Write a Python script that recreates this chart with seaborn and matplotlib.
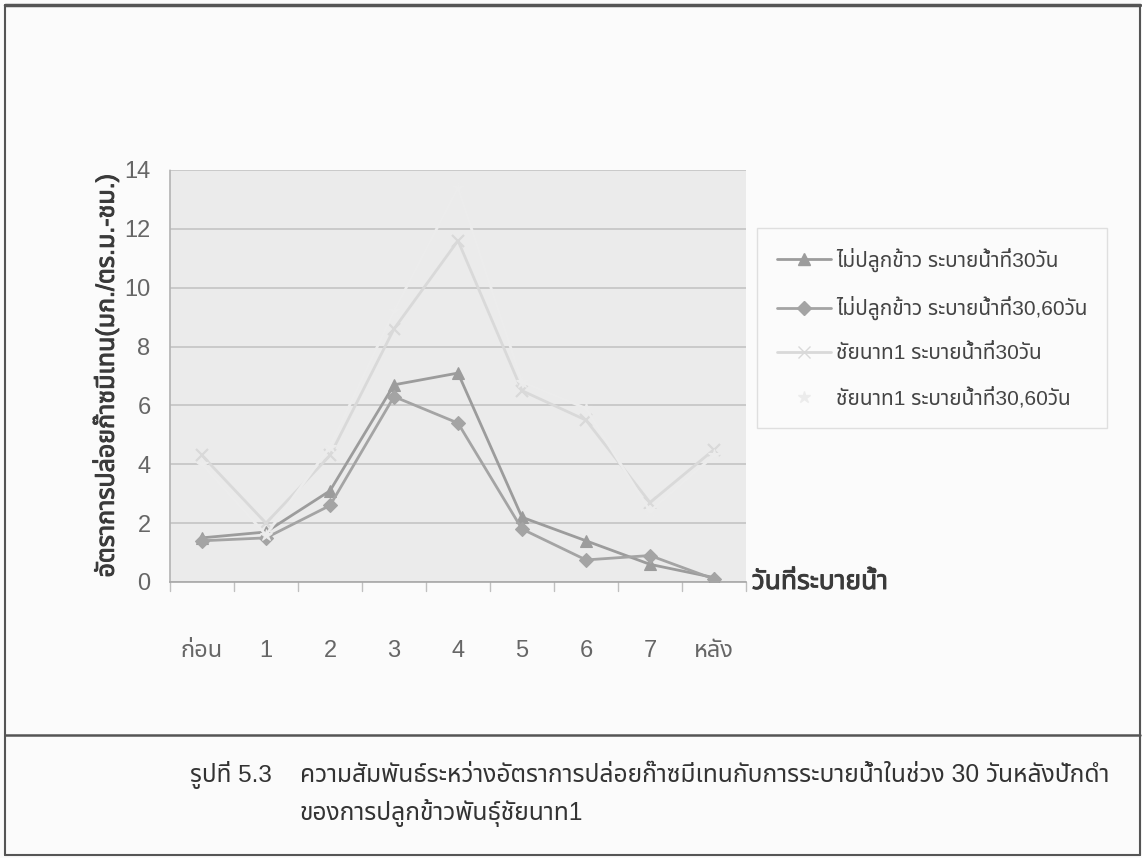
import numpy as np
import pandas as pd
import seaborn as sns
import matplotlib
matplotlib.use("Agg")
import matplotlib.pyplot as plt
import matplotlib.patheffects as pe
from matplotlib import font_manager, ft2font
from matplotlib.lines import Line2D

# ---- data -------------------------------------------------------------
days = ["ก่อน", "1", "2", "3", "4", "5", "6", "7", "หลัง"]
no_rice_30 = [1.5, 1.7, 3.1, 6.7, 7.1, 2.2, 1.4, 0.6, 0.15]
no_rice_30_60 = [1.4, 1.5, 2.6, 6.3, 5.4, 1.8, 0.75, 0.9, 0.1]
chainat_30 = [4.3, 2.0, 4.3, 8.6, 11.6, 6.5, 5.5, 2.7, 4.5]
chainat_30_60 = [4.0, 1.6, 4.6, 9.2, 13.4, 6.8, 5.9, 2.4, 4.3]
series_names = [
    "ไม่ปลูกข้าว ระบายน้ำที่30วัน",
    "ไม่ปลูกข้าว ระบายน้ำที่30,60วัน",
    "ชัยนาท1 ระบายน้ำที่30วัน",
    "ชัยนาท1 ระบายน้ำที่30,60วัน",
]
y_ticks = [0, 2, 4, 6, 8, 10, 12, 14]
y_label = "อัตราการปล่อยก๊าซมีเทน(มก./ตร.ม.-ชม.)"
x_label = "วันที่ระบายน้ำ"
caption_no = "รูปที่ 5.3"
caption_1 = "ความสัมพันธ์ระหว่างอัตราการปล่อยก๊าซมีเทนกับการระบายน้ำในช่วง 30 วันหลังปักดำ"
caption_2 = "ของการปลูกข้าวพันธุ์ชัยนาท1"

# ---- pick a font family that covers Thai --------------------------------
def thai_family():
    probe = "กขวันที่"
    preferred = ["Noto Sans Thai", "Noto Sans Thai UI", "Noto Sans Thai Looped",
                 "Loma", "Garuda", "Norasi", "Sarabun", "Kinnari", "Tlwg Typo"]
    found = {}
    for fe in font_manager.fontManager.ttflist:
        try:
            cmap = ft2font.FT2Font(fe.fname).get_charmap()
        except Exception:
            continue
        if all(ord(c) in cmap for c in probe):
            found.setdefault(fe.name, fe.fname)
    for name in preferred:
        if name in found:
            return name
    return sorted(found)[0] if found else None

sns.set_theme(style="white")
tf = thai_family()
families = ["Liberation Sans"] + ([tf] if tf else []) + ["DejaVu Sans"]
plt.rcParams["font.family"] = families

# faux-bold stroke for headings
def bold_fx(color):
    return [pe.withStroke(linewidth=0.7, foreground=color)]

# ---- long-form table ----------------------------------------------------
frames = []
for name, vals in zip(series_names, [no_rice_30, no_rice_30_60, chainat_30, chainat_30_60]):
    frames.append(pd.DataFrame({"day": days, "rate": vals, "series": name}))
df = pd.concat(frames, ignore_index=True)

palette = {
    series_names[0]: "#9c9c9c",
    series_names[1]: "#a4a4a4",
    series_names[2]: "#d9d9d9",
    series_names[3]: "#ececec",
}
markers = {series_names[0]: "^", series_names[1]: "D",
           series_names[2]: "x", series_names[3]: "*"}
msizes = {series_names[0]: 9, series_names[1]: 7,
          series_names[2]: 8, series_names[3]: 9}

fig = plt.figure(figsize=(11.42, 8.58), dpi=100, facecolor="#fbfbfb")
ax = fig.add_axes([170 / 1142, 1 - 582 / 858, 576 / 1142, 412 / 858])
ax.set_facecolor("#ebebeb")

for name in series_names:
    sub = df[df["series"] == name]
    sns.lineplot(data=sub, x="day", y="rate", color=palette[name],
                 marker=markers[name], markersize=msizes[name],
                 markeredgecolor=palette[name], markeredgewidth=1.6 if markers[name] == "x" else 0.8,
                 linewidth=2.0, sort=False, ax=ax, legend=False, zorder=3)

ax.set_xlim(-0.5, len(days) - 0.5)
ax.set_ylim(0, 14)
ax.set_yticks(y_ticks)
ax.set_yticklabels([str(v) for v in y_ticks])
ax.set_xticks(range(len(days)))
ax.set_xticklabels(days)
ax.grid(axis="y", color="#c4c4c4", linewidth=1.2)
ax.grid(axis="x", visible=False)
ax.set_axisbelow(True)

for side in ["top", "right"]:
    ax.spines[side].set_visible(False)
ax.spines["left"].set_color("#b5b5b5")
ax.spines["left"].set_linestyle((0, (1, 1)))
ax.spines["bottom"].set_color("#a8a8a8")
ax.spines["bottom"].set_linewidth(1.2)

ax.tick_params(axis="y", length=8, color="#c0c0c0", pad=6, labelsize=17, labelcolor="#666666")
ax.tick_params(axis="x", length=0, pad=42, labelsize=17, labelcolor="#666666")
# category boundary tick marks under the axis
for b in np.arange(-0.5, len(days), 1.0):
    ax.plot([b, b], [0, -0.3], color="#c0c0c0", linewidth=1, clip_on=False)

ax.set_xlabel("")
ax.set_ylabel(y_label, fontsize=18, color="#3a3a3a", labelpad=4,
              path_effects=bold_fx("#3a3a3a"))
ax.text(1.01, 0, x_label, transform=ax.transAxes, fontsize=19,
        color="#3a3a3a", ha="left", va="center", path_effects=bold_fx("#3a3a3a"))

# legend
handles = [Line2D([0], [0], color=palette[n] if i < 3 else "none", marker=markers[n],
                  markersize=msizes[n], markerfacecolor=palette[n],
                  markeredgecolor=palette[n], linewidth=2)
           for i, n in enumerate(series_names)]
leg = fig.legend(handles, series_names, loc="upper left",
                 bbox_to_anchor=(757 / 1142, 1 - 228 / 858), borderaxespad=0, frameon=True,
                 fontsize=15, handlelength=2.6, labelspacing=1.15, borderpad=0.95,
                 handletextpad=0.25, fancybox=False, edgecolor="#d8d8d8")
leg.get_frame().set_facecolor("#fbfbfb")
for t in leg.get_texts():
    t.set_color("#444444")

# page frame and caption
frame_kw = dict(color="#555555", transform=fig.transFigure)
fig.add_artist(Line2D([5 / 1142, 1140 / 1142], [1 - 5 / 858, 1 - 5 / 858], linewidth=2.5, **frame_kw))
fig.add_artist(Line2D([5 / 1142, 5 / 1142], [1 - 5 / 858, 1 - 855 / 858], linewidth=1.5, **frame_kw))
fig.add_artist(Line2D([1140 / 1142, 1140 / 1142], [1 - 5 / 858, 1 - 855 / 858], linewidth=1.5, **frame_kw))
fig.add_artist(Line2D([5 / 1142, 1140 / 1142], [1 - 855 / 858, 1 - 855 / 858], linewidth=1.5, **frame_kw))
fig.add_artist(Line2D([5 / 1142, 1140 / 1142], [1 - 735 / 858, 1 - 735 / 858], linewidth=1.8, **frame_kw))

fig.text(190 / 1142, 1 - 775 / 858, caption_no, fontsize=17.5, color="#333333", va="center")
fig.text(300 / 1142, 1 - 775 / 858, caption_1, fontsize=17.7, color="#333333", va="center")
fig.text(300 / 1142, 1 - 813 / 858, caption_2, fontsize=17.7, color="#333333", va="center")

fig.savefig("out.png", dpi=100, facecolor=fig.get_facecolor())
